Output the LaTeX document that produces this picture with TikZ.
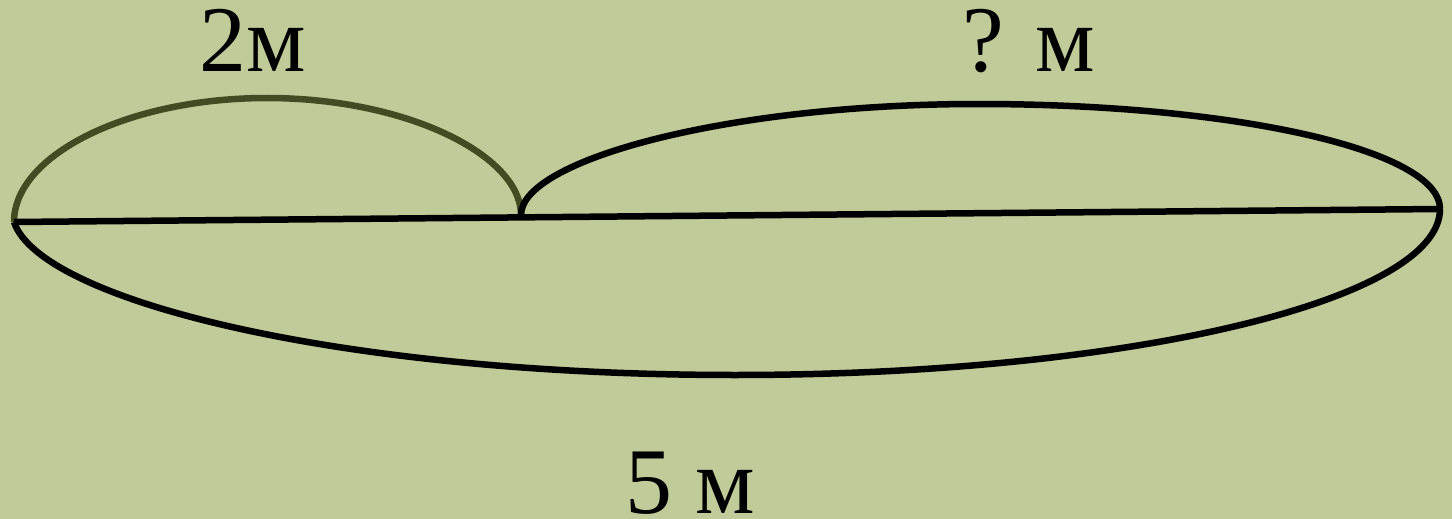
\documentclass[tikz,border=0pt]{standalone}
\usepackage{fontspec}
\setmainfont{Liberation Serif}
\definecolor{bg}{HTML}{BFCB98}
\definecolor{olive}{HTML}{414C22}
\begin{document}
\begin{tikzpicture}[x=1pt,y=-1pt,
  curve/.style={line width=6.5pt},
  lbl/.style={anchor=base west,inner sep=0pt,font=\fontsize{94}{100}\selectfont}]
\fill[bg] (0,0) rectangle (1452,519);
\useasboundingbox (0,0) rectangle (1452,519);
\coordinate (A) at (14,222);
\coordinate (B) at (521,215);
\coordinate (C) at (1440,209);
\coordinate (Lt) at (267,98);
\coordinate (Rt) at (978,104);
\coordinate (Bt) at (735,375);
% left arc
\draw[curve,olive] (A) .. controls (14,155) and (128,98) .. (Lt)
  .. controls (406,98) and (521,155) .. (B);
% right arc
\draw[curve] (B) .. controls (521,160) and (728,104) .. (Rt)
  .. controls (1235,104) and (1440,150) .. (C);
% bottom arc
\draw[curve] (A) .. controls (40,300) and (338,375) .. (Bt)
  .. controls (1130,375) and (1440,300) .. (C);
% base line
\draw[curve] (A) -- (C);
\node[lbl] (l1) at (199,72) {2м};
\node[lbl] (l2) at (962,72) {? м};
\node[lbl] (l3) at (625,513) {5 м};
\end{tikzpicture}
\end{document}
